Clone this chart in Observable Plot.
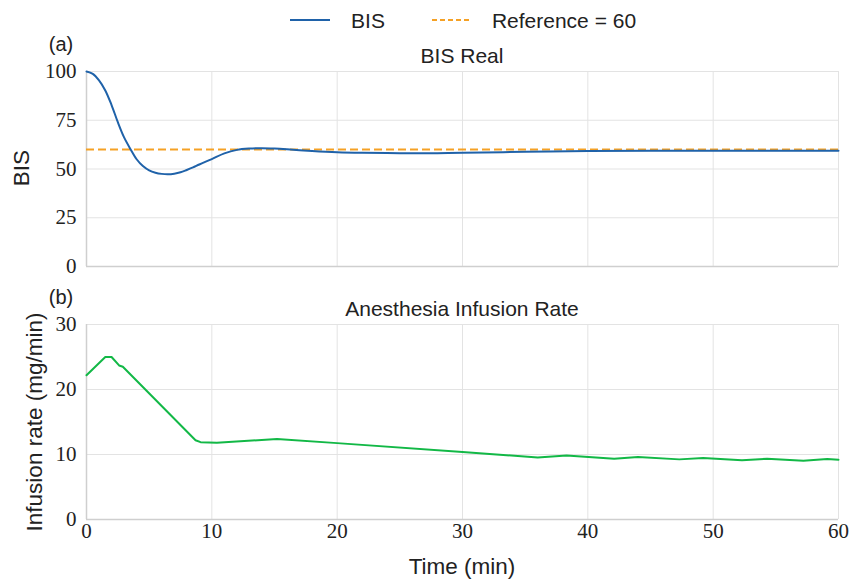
<!DOCTYPE html>
<html>
<head>
<meta charset="utf-8">
<script src="https://cdn.jsdelivr.net/npm/d3@7"></script>
<script src="https://cdn.jsdelivr.net/npm/@observablehq/plot@0.6"></script>
<style>
  html, body { margin: 0; padding: 0; background: #fff; }
  #root { position: relative; width: 852px; height: 583px; overflow: hidden; }
  .abs { position: absolute; white-space: nowrap; line-height: 1; }
  .lbl { font-family: "Liberation Sans", "DejaVu Sans", sans-serif; color: #222; }
  .ctr { transform: translate(-50%, -50%); }
  .rot { transform: translate(-50%, -50%) rotate(-90deg); }
  .plotwrap { position: absolute; left: 0; }
  .plotwrap svg g[aria-label$="tick label"] text,
  .plotwrap svg g[aria-label$="tick label"] {
    font-family: "Liberation Serif", "Times New Roman", Times, Tinos, "DejaVu Serif", "Noto Serif", serif !important;
  }
</style>
</head>
<body>
<div id="root"></div>
<script>
// ---- data ----
const bisTime  = [0, 0.5, 1, 1.5, 2, 2.5, 3, 3.5, 4, 4.5, 5, 5.5, 6, 6.5, 7, 7.5, 8, 8.5, 9, 10, 11, 12, 13, 14, 15, 16, 17, 18, 20, 22, 25, 28, 30, 35, 40, 45, 50, 55, 60];
const bisValue = [100, 98.8, 95.5, 90.3, 82.8, 74, 66.2, 60.3, 55, 51.5, 49.3, 48.1, 47.5, 47.3, 47.6, 48.3, 49.5, 50.8, 52.3, 55.1, 58, 59.8, 60.5, 60.7, 60.5, 60.1, 59.6, 59.2, 58.6, 58.3, 58.1, 58.1, 58.3, 58.8, 59.2, 59.3, 59.3, 59.3, 59.3];
const referenceValue = 60;

const infTime = [0, 1.5, 2.0, 2.6, 2.9, 8.7, 9.1, 10.4, 15.2, 20, 30, 36, 38.3, 42.1, 44, 47.3, 49.2, 52.3, 54.3, 57.2, 59.1, 60];
const infRate = [22.2, 25, 25, 23.7, 23.5, 12.2, 11.9, 11.8, 12.4, 11.75, 10.4, 9.55, 9.85, 9.35, 9.6, 9.25, 9.45, 9.1, 9.35, 9.05, 9.3, 9.2];

const xTicks = [0, 10, 20, 30, 40, 50, 60];
const bisTicks = [0, 25, 50, 75, 100];
const infTicks = [0, 10, 20, 30];

const bisData = bisTime.map((t, i) => ({t, v: bisValue[i]}));
const infData = infTime.map((t, i) => ({t, v: infRate[i]}));

const BLUE = "#1f62a9", ORANGE = "#f5a125", GREEN = "#12b846";
const GRID = "#e3e3e3", SPINE = "#cfcfcf";
const SERIF = "'Liberation Serif', 'Times New Roman', Times, Tinos, 'DejaVu Serif', serif";

const root = document.getElementById("root");
function addText(txt, x, y, size, cls) {
  const d = document.createElement("div");
  d.className = "abs lbl " + cls;
  d.style.left = x + "px"; d.style.top = y + "px";
  d.style.fontSize = size + "px";
  d.textContent = txt;
  root.appendChild(d);
}

// ---- panel (a) ----
const plotA = Plot.plot({
  width: 852, height: 220,
  marginLeft: 86, marginRight: 14, marginTop: 11, marginBottom: 14,
  style: {fontSize: "21px", color: "#222"},
  x: {domain: [0, 60], ticks: xTicks, label: null},
  y: {domain: [0, 100], ticks: bisTicks, label: null},
  marks: [
    Plot.gridX(xTicks, {stroke: GRID, strokeOpacity: 1}),
    Plot.gridY(bisTicks, {stroke: GRID, strokeOpacity: 1}),
    Plot.axisY({ticks: bisTicks, tickSize: 0, tickPadding: 10, label: null, fontFamily: SERIF}),
    Plot.axisX({ticks: [], tickSize: 0, label: null}),
    Plot.ruleX([0], {stroke: SPINE, strokeWidth: 1.5}),
    Plot.ruleY([0], {stroke: SPINE, strokeWidth: 1.5}),
    Plot.ruleY([referenceValue], {stroke: ORANGE, strokeWidth: 2, strokeDasharray: "8,4"}),
    Plot.line(bisData, {x: "t", y: "v", stroke: BLUE, strokeWidth: 2, curve: "catmull-rom"})
  ]
});
const wa = document.createElement("div");
wa.className = "plotwrap"; wa.style.top = "60px";
wa.appendChild(plotA); root.appendChild(wa);

// ---- panel (b) ----
const plotB = Plot.plot({
  width: 852, height: 283,
  marginLeft: 86, marginRight: 14, marginTop: 24, marginBottom: 64,
  style: {fontSize: "21px", color: "#222"},
  x: {domain: [0, 60], ticks: xTicks, label: null},
  y: {domain: [0, 30], ticks: infTicks, label: null},
  marks: [
    Plot.gridX(xTicks, {stroke: GRID, strokeOpacity: 1}),
    Plot.gridY(infTicks, {stroke: GRID, strokeOpacity: 1}),
    Plot.axisY({ticks: infTicks, tickSize: 0, tickPadding: 10, label: null, fontFamily: SERIF}),
    Plot.axisX({ticks: xTicks, tickSize: 0, tickPadding: 4, label: null, fontFamily: SERIF}),
    Plot.ruleX([0], {stroke: SPINE, strokeWidth: 1.5}),
    Plot.ruleY([0], {stroke: SPINE, strokeWidth: 1.5}),
    Plot.line(infData, {x: "t", y: "v", stroke: GREEN, strokeWidth: 2})
  ]
});
const wb = document.createElement("div");
wb.className = "plotwrap"; wb.style.top = "300px";
wb.appendChild(plotB); root.appendChild(wb);

// ---- texts ----
addText("(a)", 61, 44, 20, "ctr");
addText("BIS Real", 462, 55, 21, "ctr");
addText("(b)", 61, 297, 20, "ctr");
addText("Anesthesia Infusion Rate", 462, 308, 21, "ctr");
addText("BIS", 22, 168, 22.5, "rot");
addText("Infusion rate (mg/min)", 35, 422, 22.5, "rot");
addText("Time (min)", 462, 567, 22.5, "ctr");

// ---- legend ----
const ns = "http://www.w3.org/2000/svg";
function swatch(x, color, dash) {
  const s = document.createElementNS(ns, "svg");
  s.setAttribute("width", 42); s.setAttribute("height", 6);
  s.style.position = "absolute"; s.style.left = x + "px"; s.style.top = "17px";
  const l = document.createElementNS(ns, "line");
  l.setAttribute("x1", 1); l.setAttribute("x2", 41); l.setAttribute("y1", 3); l.setAttribute("y2", 3);
  l.setAttribute("stroke", color); l.setAttribute("stroke-width", 2);
  if (dash) l.setAttribute("stroke-dasharray", dash);
  s.appendChild(l); root.appendChild(s);
}
swatch(289, BLUE, null);
addText("BIS", 368, 20, 21, "ctr");
swatch(431, ORANGE, "5,3");
addText("Reference = 60", 564, 20, 21, "ctr");
</script>
</body>
</html>
